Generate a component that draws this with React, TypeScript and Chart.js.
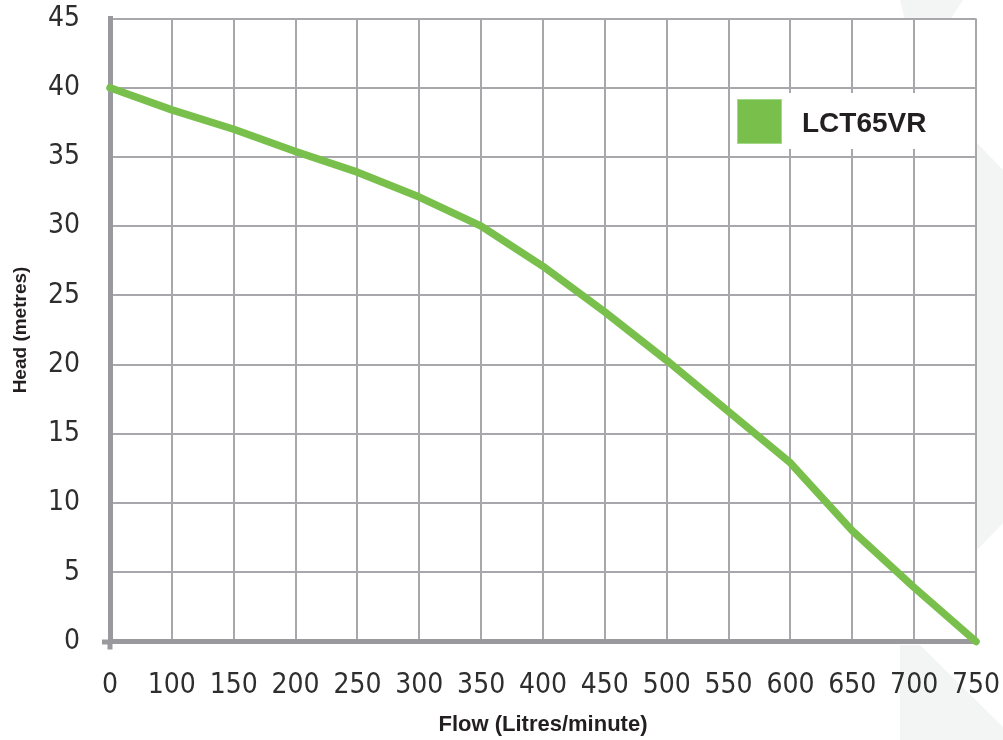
import React, { useEffect, useRef } from "react";
import { Chart, registerables } from "chart.js";

Chart.register(...registerables);

const xLabels = ["0", "100", "150", "200", "250", "300", "350", "400", "450", "500", "550", "600", "650", "700", "750"];
const headValues = [40, 38.4, 37.0, 35.4, 33.9, 32.1, 30.0, 27.1, 23.8, 20.3, 16.6, 12.9, 8.0, 3.9, 0];
const seriesLabel = "LCT65VR";
const yMin = 0;
const yMax = 45;
const yStep = 5;
const xTitle = "Flow (Litres/minute)";
const yTitle = "Head (metres)";

const GREEN = "#78c04b";
const GRID = "#a8a8ac";
const AXIS = "#9a9a9e";
const TEXT = "#2e2e2e";
const TICK_FONT = "'Liberation Sans Narrow', 'DejaVu Sans Condensed', 'Liberation Sans', sans-serif";
const BOLD_FONT = "'Liberation Sans', Arial, sans-serif";

const backgroundPlugin = {
  id: "bgDecor",
  beforeDraw(chart: any) {
    const { ctx, chartArea, width, height } = chart;
    ctx.save();
    ctx.fillStyle = "#ffffff";
    ctx.fillRect(0, 0, width, height);
    ctx.fillStyle = "#f3f4f4";
    ctx.beginPath();
    ctx.moveTo(900, 0);
    ctx.lineTo(963, 0);
    ctx.lineTo(950, 20);
    ctx.lineTo(905, 20);
    ctx.closePath();
    ctx.fill();
    ctx.beginPath();
    ctx.moveTo(977, 143);
    ctx.lineTo(1003, 170);
    ctx.lineTo(1003, 523);
    ctx.lineTo(977, 550);
    ctx.closePath();
    ctx.fill();
    ctx.beginPath();
    ctx.moveTo(900, 645);
    ctx.lineTo(920, 645);
    ctx.lineTo(1003, 727);
    ctx.lineTo(1003, 740);
    ctx.lineTo(900, 740);
    ctx.closePath();
    ctx.fill();
    ctx.fillStyle = "#ffffff";
    ctx.fillRect(chartArea.left, chartArea.top, chartArea.right - chartArea.left, chartArea.bottom - chartArea.top);
    ctx.restore();
  },
};

const legendPlugin = {
  id: "insideLegend",
  afterDraw(chart: any) {
    const { ctx } = chart;
    const ds = chart.data.datasets[0];
    ctx.save();
    ctx.fillStyle = "#ffffff";
    ctx.fillRect(733, 93, 240, 56);
    ctx.fillStyle = ds.borderColor;
    ctx.fillRect(737, 99, 45, 45);
    ctx.strokeStyle = "#a6d88a";
    ctx.lineWidth = 1;
    ctx.strokeRect(737.5, 99.5, 44, 44);
    ctx.fillStyle = "#231f20";
    ctx.font = `bold 28px ${BOLD_FONT}`;
    ctx.textBaseline = "alphabetic";
    ctx.textAlign = "left";
    ctx.fillText(ds.label, 802, 132);
    ctx.restore();
  },
};

export default function App() {
  const canvasRef = useRef<HTMLCanvasElement | null>(null);

  useEffect(() => {
    document.body.style.margin = "0";
    const canvas = canvasRef.current;
    if (!canvas) return;
    const chart = new Chart(canvas, {
      type: "line",
      data: {
        labels: xLabels,
        datasets: [
          {
            label: seriesLabel,
            data: headValues,
            borderColor: GREEN,
            backgroundColor: GREEN,
            borderWidth: 7.5,
            pointRadius: 0,
            tension: 0,
            borderCapStyle: "round",
            borderJoinStyle: "round",
            clip: false as any,
          } as any,
        ],
      },
      options: {
        responsive: false,
        animation: false,
        devicePixelRatio: 1,
        layout: { padding: { left: 0, right: 27, top: 18.5, bottom: 0 } },
        plugins: {
          legend: { display: false },
          tooltip: { enabled: false },
        },
        scales: {
          x: {
            type: "category",
            offset: false,
            grid: {
              color: GRID,
              lineWidth: 2,
              drawTicks: true,
              tickLength: 8,
              tickWidth: 5,
              tickColor: (c: any) => (c.index === 0 ? AXIS : "rgba(0,0,0,0)"),
            },
            border: { display: true, color: AXIS, width: 5 },
            ticks: {
              color: TEXT,
              padding: 19,
              maxRotation: 0,
              autoSkip: false,
              font: { family: TICK_FONT, size: 28 },
            },
            title: {
              display: true,
              text: xTitle,
              color: "#231f20",
              font: { family: BOLD_FONT, size: 22, weight: "bold" },
              padding: { top: 0, bottom: 2 },
            },
            afterFit: (s: any) => {
              s.height = 98.5;
              s.paddingLeft = 0;
              s.paddingRight = 0;
              s.paddingTop = 0;
              s.paddingBottom = 0;
            },
          },
          y: {
            min: yMin,
            max: yMax,
            grid: {
              color: GRID,
              lineWidth: 2,
              drawTicks: true,
              tickLength: 8,
              tickWidth: 5,
              tickColor: (c: any) => (c.index === 0 ? AXIS : "rgba(0,0,0,0)"),
            },
            border: { display: true, color: AXIS, width: 5 },
            ticks: {
              stepSize: yStep,
              color: TEXT,
              padding: 22,
              font: { family: TICK_FONT, size: 28 },
            },
            title: {
              display: true,
              text: yTitle,
              color: "#231f20",
              font: { family: BOLD_FONT, size: 19, weight: "bold" },
              padding: { top: 9, bottom: 0 },
            },
            afterFit: (s: any) => {
              s.width = 110;
              s.paddingLeft = 0;
              s.paddingRight = 0;
              s.paddingTop = 0;
              s.paddingBottom = 0;
            },
          },
        },
      },
      plugins: [backgroundPlugin, legendPlugin],
    } as any);
    return () => chart.destroy();
  }, []);

  return (
    <div style={{ position: "fixed", left: 0, top: 0, width: 1003, height: 740 }}>
      <canvas ref={canvasRef} width={1003} height={740} style={{ width: 1003, height: 740, display: "block" }} />
    </div>
  );
}
